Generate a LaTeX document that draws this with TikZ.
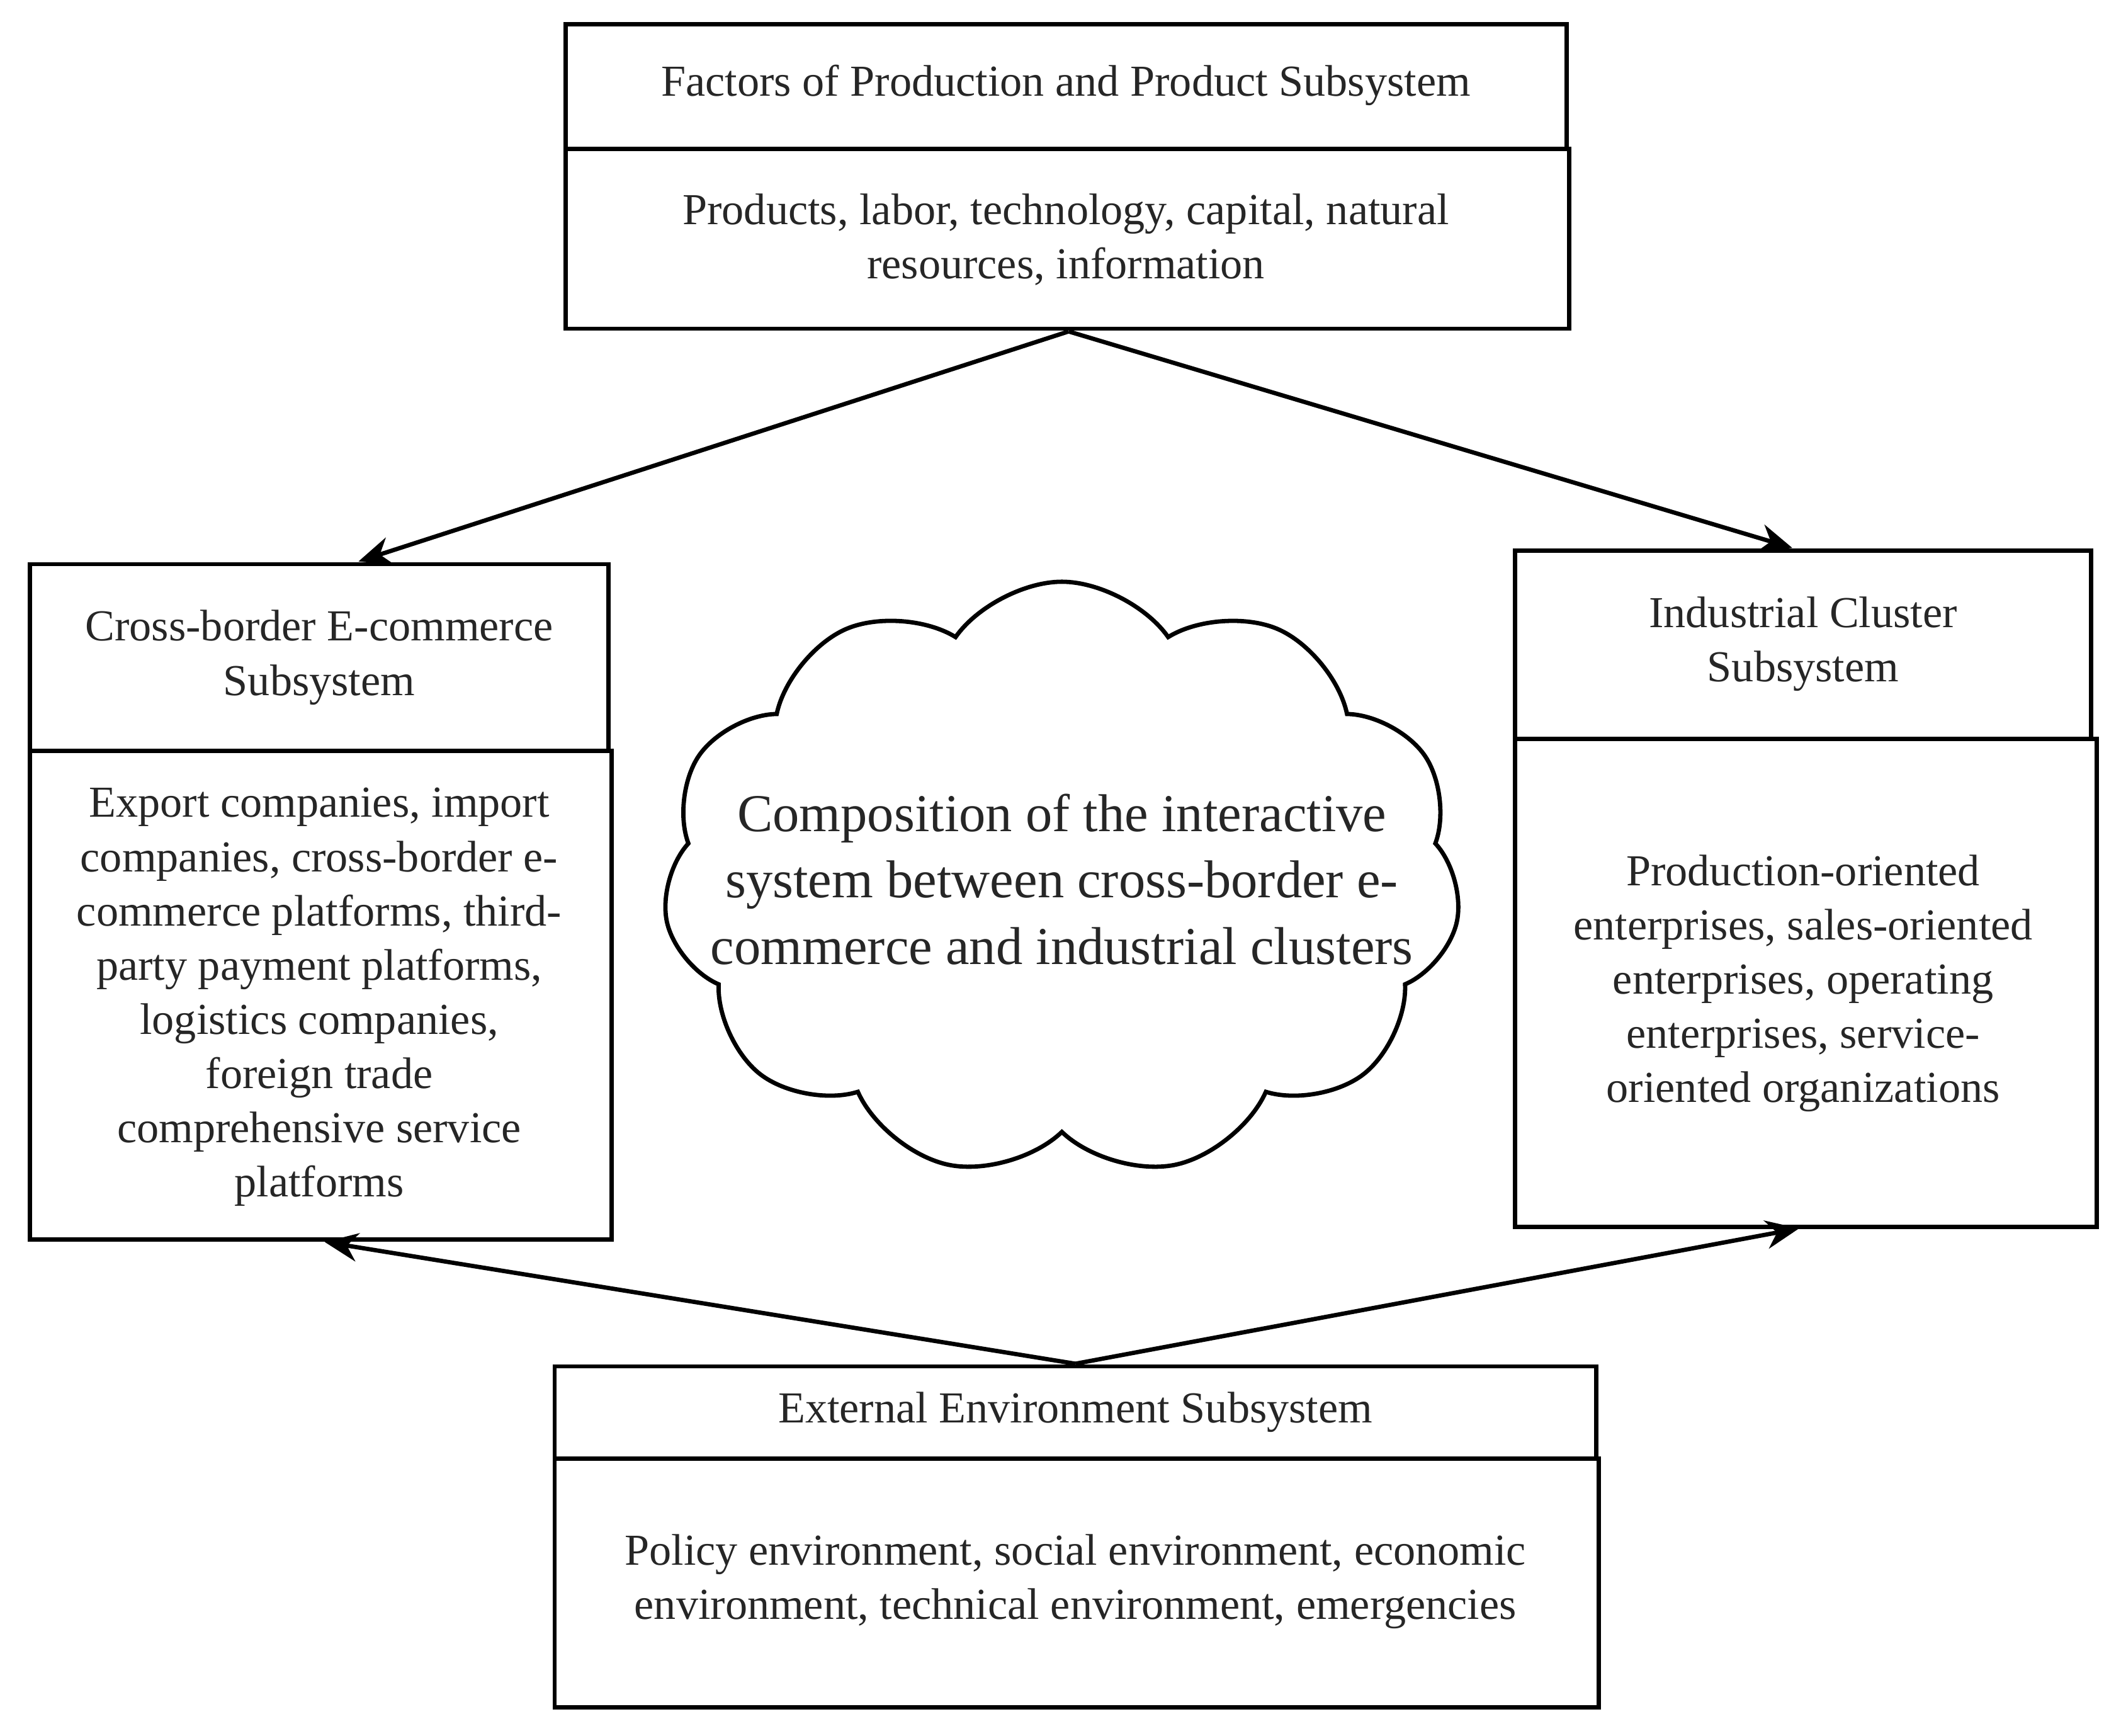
\documentclass[tikz,border=0pt]{standalone}
\usepackage{fontspec}
\setmainfont{Liberation Serif}
\usetikzlibrary{shapes.symbols,arrows.meta}
\begin{document}
\begin{tikzpicture}[x=1cm,y=1cm,
  bx/.style={draw,line width=0.9pt},
  tx/.style={align=center,font=\fontsize{9.3}{11.4}\selectfont,text=black!85},
  arr/.style={line width=0.9pt,-{Stealth[length=7pt,width=6pt]}}]
\useasboundingbox (0,0) rectangle (15.68,-12.83);
% top
\draw[bx] (4.18,-0.18) rectangle (11.58,-1.10);
\draw[bx] (4.18,-1.10) rectangle (11.60,-2.43);
\node[tx] (t1) at (7.88,-0.63) {Factors of Production and Product Subsystem};
\node[tx] (t2) at (7.88,-1.77) {Products, labor, technology, capital, natural\\resources, information};
% left
\draw[bx] (0.22,-4.17) rectangle (4.50,-5.55);
\draw[bx] (0.22,-5.55) rectangle (4.52,-9.16);
\node[tx] (l1) at (2.36,-4.86) {Cross-border E-commerce\\Subsystem};
\node[tx] (l2) at (2.36,-7.37) {Export companies, import\\companies, cross-border e-\\commerce platforms, third-\\party payment platforms,\\logistics companies,\\foreign trade\\comprehensive service\\platforms};
% right
\draw[bx] (11.20,-4.07) rectangle (15.46,-5.46);
\draw[bx] (11.20,-5.46) rectangle (15.50,-9.07);
\node[tx] (r1) at (13.33,-4.76) {Industrial Cluster\\Subsystem};
\node[tx] (r2) at (13.33,-7.27) {Production-oriented\\enterprises, sales-oriented\\enterprises, operating\\enterprises, service-\\oriented organizations};
% bottom
\draw[bx] (4.10,-10.10) rectangle (11.80,-10.78);
\draw[bx] (4.10,-10.78) rectangle (11.82,-12.62);
\node[tx] (b1) at (7.95,-10.44) {External Environment Subsystem};
\node[tx] (b2) at (7.95,-11.69) {Policy environment, social environment, economic\\environment, technical environment, emergencies};
% cloud
\node[cloud,draw,line width=0.9pt,cloud puffs=11,cloud puff arc=110,aspect=1.35,
  minimum width=5.9cm,minimum height=4.4cm,inner sep=0pt] (c) at (7.85,-6.50) {};
\node[align=center,font=\fontsize{11.2}{14}\selectfont,text=black!85] (ct) at (c.center)
  {Composition of the interactive\\system between cross-border e-\\commerce and industrial clusters};
% arrows
\coordinate (ts) at (7.90,-2.45);
\coordinate (ln) at (2.65,-4.15);
\coordinate (rn) at (13.25,-4.05);
\coordinate (bn) at (7.95,-10.08);
\coordinate (ls) at (2.40,-9.18);
\coordinate (rs) at (13.30,-9.08);
\draw[arr] (ts) -- (ln);
\draw[arr] (ts) -- (rn);
\draw[arr] (bn) -- (ls);
\draw[arr] (bn) -- (rs);
\end{tikzpicture}
\end{document}
